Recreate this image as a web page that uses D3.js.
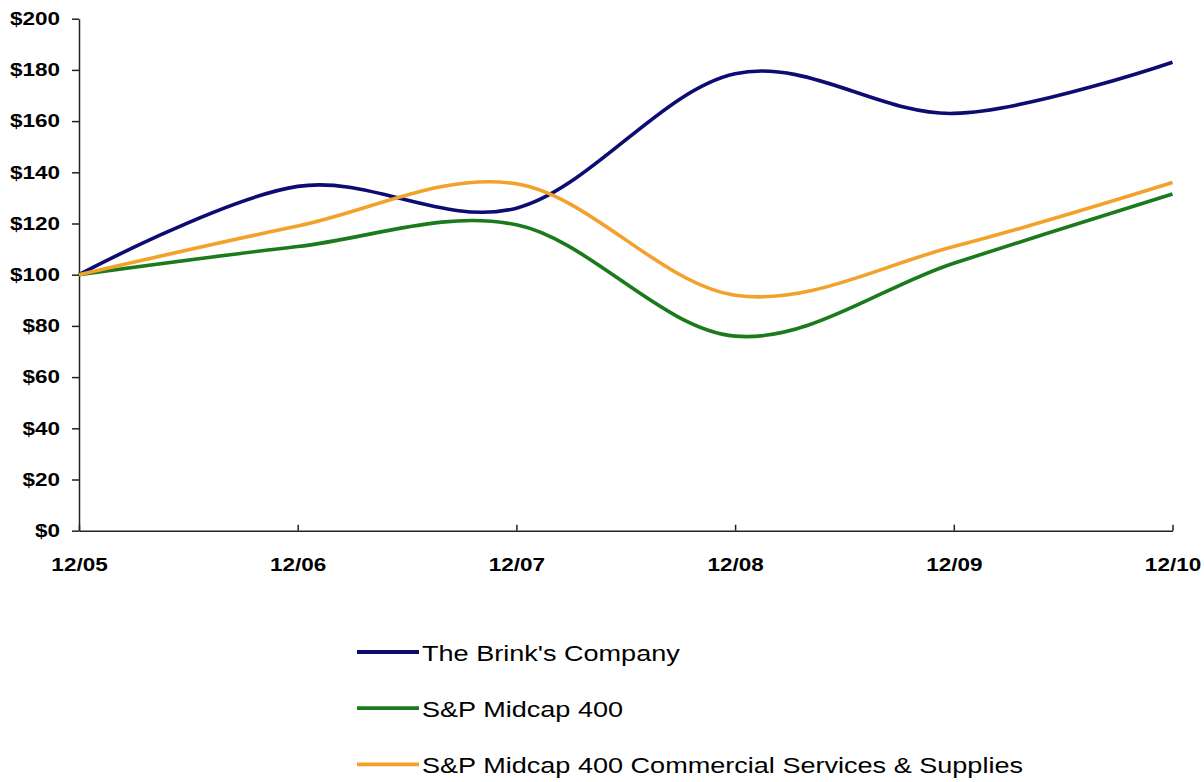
<!DOCTYPE html>
<html>
<head>
<meta charset="utf-8">
<script src="https://cdn.jsdelivr.net/npm/d3@7"></script>
<style>
  body { margin: 0; background: #fff; }
  svg { display: block; font-family: Arial, "Liberation Sans", sans-serif; }
</style>
</head>
<body>
<svg id="chart" width="1204" height="782"></svg>
<script>
// data
var periods = ["12/05", "12/06", "12/07", "12/08", "12/09", "12/10"];
var brinks = [100, 134.5, 126, 178.5, 163, 183];
var midcap = [100, 111, 119.5, 76, 104.5, 131.5];
var services = [100, 119, 135.5, 92, 111, 136];
var seriesNames = ["The Brink's Company", "S&P Midcap 400", "S&P Midcap 400 Commercial Services & Supplies"];
var yTicks = [0, 20, 40, 60, 80, 100, 120, 140, 160, 180, 200];

var colors = ["#0c0c72", "#1b7a1b", "#f2a22a"];
var allSeries = [brinks, midcap, services];

var svg = d3.select("#chart");
var stretch = 1.25;

var x = d3.scalePoint().domain(periods).range([79, 1172.5]);
var y = d3.scaleLinear().domain([0, 200]).range([530.7, 18.7]);

// y axis
var yAxis = svg.append("g")
    .attr("transform", "translate(79,0)")
    .call(d3.axisLeft(y).tickValues(yTicks).tickSizeInner(7).tickSizeOuter(0)
        .tickFormat(function(d){ return "$" + d; }));
yAxis.selectAll("path, line").attr("stroke", "#222").attr("stroke-width", 1.5);
yAxis.selectAll("text")
    .attr("x", -19 / stretch)
    .attr("transform", "scale(" + stretch + ",1)")
    .style("font-size", "18px")
    .style("font-weight", "bold")
    .attr("fill", "#000");

// x axis, ticks point up into the plot
var xAxis = svg.append("g")
    .attr("transform", "translate(0,530.7)")
    .call(d3.axisBottom(x).tickSizeInner(-6).tickSizeOuter(0));
xAxis.selectAll("path, line").attr("stroke", "#222").attr("stroke-width", 1.5);
xAxis.selectAll("text")
    .attr("y", 40)
    .attr("dy", 0)
    .attr("transform", "scale(" + stretch + ",1)")
    .style("font-size", "18px")
    .style("font-weight", "bold")
    .attr("fill", "#000");

// smoothed lines, same kind of smoothing as the spreadsheet
var line = d3.line()
    .x(function(d, i){ return x(periods[i]); })
    .y(function(d){ return y(d); })
    .curve(d3.curveCardinal.tension(0));

svg.selectAll(".series")
    .data(allSeries)
    .enter()
    .append("path")
    .attr("class", "series")
    .attr("d", line)
    .attr("fill", "none")
    .attr("stroke", function(d, i){ return colors[i]; })
    .attr("stroke-width", 3.6);

// legend
var legend = svg.append("g");
var rows = legend.selectAll("g")
    .data(seriesNames)
    .enter()
    .append("g")
    .attr("transform", function(d, i){ return "translate(357," + (652 + i * 56.2) + ")"; });

rows.append("line")
    .attr("x1", 0).attr("x2", 62)
    .attr("y1", 0).attr("y2", 0)
    .attr("stroke", function(d, i){ return colors[i]; })
    .attr("stroke-width", 3.8);

rows.append("text")
    .attr("x", 65 / 1.23)
    .attr("y", 9)
    .attr("transform", "scale(1.23,1)")
    .style("font-size", "22px")
    .attr("fill", "#000")
    .text(function(d){ return d; });
</script>
</body>
</html>
